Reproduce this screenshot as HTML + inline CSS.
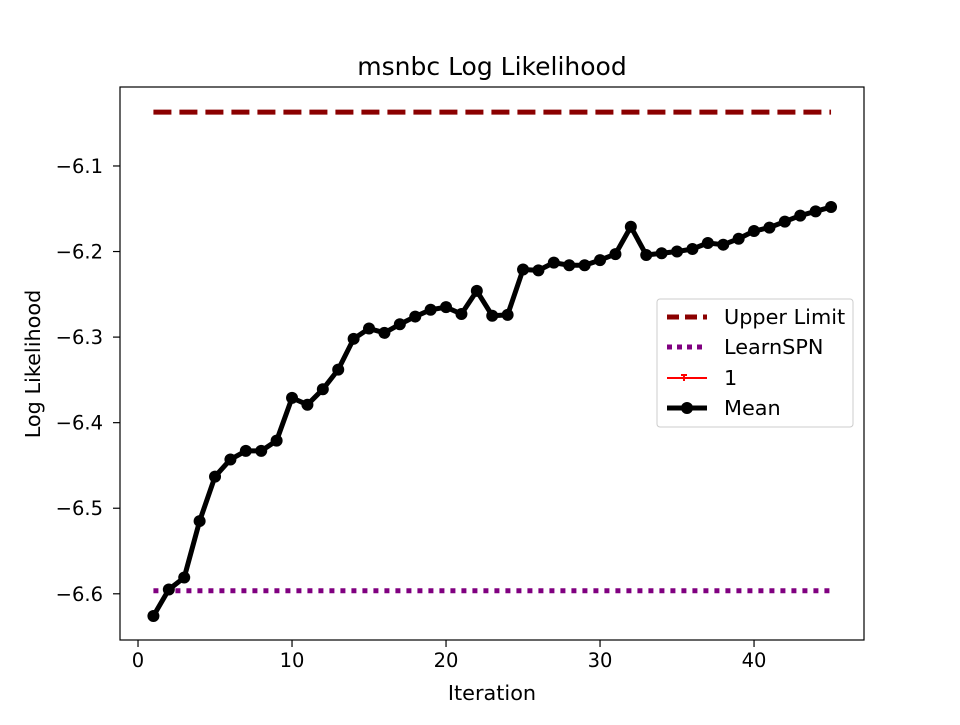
<!DOCTYPE html>
<html><head><meta charset="utf-8"><style>
body{margin:0;background:#fff;}
svg text{font-family:"DejaVu Sans","Liberation Sans",sans-serif;}
</style></head><body>
<svg id="chart" width="960" height="720" xmlns="http://www.w3.org/2000/svg">
<rect width="960" height="720" fill="#fff"/>
<text x="492" y="75" font-size="25" text-anchor="middle">msnbc Log Likelihood</text>
<g id="plot"></g>
<rect x="120" y="87" width="744" height="553" fill="none" stroke="#000" stroke-width="1.2"/>
<text x="492" y="700" font-size="20.8" text-anchor="middle">Iteration</text>
<text x="0" y="0" font-size="20.8" text-anchor="middle" transform="translate(40,364) rotate(-90)">Log Likelihood</text>
<g>
<rect x="657" y="299" width="196" height="128" fill="#fff" stroke="#ccc" rx="3"/>
<line x1="667" y1="317" x2="707" y2="317" stroke="#8b0000" stroke-width="5" stroke-dasharray="12,6"/>
<text x="724" y="324" font-size="20.8">Upper Limit</text>
<line x1="667" y1="347" x2="707" y2="347" stroke="#800080" stroke-width="5" stroke-dasharray="5,5"/>
<text x="724" y="354" font-size="20.8">LearnSPN</text>
<line x1="667" y1="378" x2="707" y2="378" stroke="red" stroke-width="2"/>
<path d="M681,375 L687,375 M684,375 L684,381" stroke="red" stroke-width="2"/>
<text x="724" y="385" font-size="20.8">1</text>
<line x1="667" y1="408" x2="707" y2="408" stroke="#000" stroke-width="5"/>
<circle cx="687" cy="408" r="6" fill="#000"/>
<text x="724" y="415" font-size="20.8">Mean</text>
</g>
</svg>
<script>
const upperLimit = -6.037;
const learnSPN = -6.5965;
const iterations = [1,2,3,4,5,6,7,8,9,10,11,12,13,14,15,16,17,18,19,20,21,22,23,24,25,26,27,28,29,30,31,32,33,34,35,36,37,38,39,40,41,42,43,44,45];
const meanValues = [-6.626,-6.595,-6.581,-6.515,-6.463,-6.443,-6.433,-6.433,-6.421,-6.371,-6.379,-6.361,-6.338,-6.302,-6.290,-6.295,-6.285,-6.276,-6.268,-6.265,-6.273,-6.246,-6.275,-6.274,-6.221,-6.222,-6.213,-6.216,-6.216,-6.210,-6.203,-6.171,-6.204,-6.202,-6.200,-6.197,-6.190,-6.192,-6.185,-6.176,-6.172,-6.165,-6.158,-6.153,-6.148];
const series1Values = meanValues.slice();
const xTicks = [0,10,20,30,40];
const yTicks = [-6.6,-6.5,-6.4,-6.3,-6.2,-6.1];

const NS = "http://www.w3.org/2000/svg";
const xMin = -1.17, xMax = 47.14, yMin = -6.654, yMax = -6.0077;
const L = 120, R = 864, T = 87, B = 640;
function sx(v){ return L + (v - xMin) / (xMax - xMin) * (R - L); }
function sy(v){ return B - (v - yMin) / (yMax - yMin) * (B - T); }
const g = document.getElementById('plot');
function mk(tag, attrs){ const e = document.createElementNS(NS, tag); for (const k in attrs) e.setAttribute(k, attrs[k]); g.appendChild(e); return e; }

xTicks.forEach(t => {
  const x = sx(t);
  const tk = mk('line', {x1:x, y1:B, x2:x, y2:B+7, stroke:'#000', 'stroke-width':1.2});
  
  
  const lb = mk('text', {x:x, y:B+27, 'font-size':19.5, 'text-anchor':'middle'});
  lb.textContent = String(t);
  
  
});
yTicks.forEach(t => {
  const y = sy(t);
  const tk = mk('line', {x1:L-7, y1:y, x2:L, y2:y, stroke:'#000', 'stroke-width':1.2});
  
  
  const lb = mk('text', {x:L-17, y:y+7, 'font-size':19.5, 'text-anchor':'end'});
  lb.textContent = '\u2212' + Math.abs(t).toFixed(1);
  
  
});

const x0 = sx(iterations[0]), x1 = sx(iterations[iterations.length-1]);
const ul = mk('line', {x1:x0, y1:sy(upperLimit), x2:x1, y2:sy(upperLimit), stroke:'#8b0000', 'stroke-width':5, 'stroke-dasharray':'18,8'});


const ls = mk('line', {x1:x0, y1:sy(learnSPN), x2:x1, y2:sy(learnSPN), stroke:'#800080', 'stroke-width':5, 'stroke-dasharray':'5,6'});



const p1 = mk('polyline', {points: iterations.map((v,i)=>sx(v)+','+sy(series1Values[i])).join(' '), fill:'none', stroke:'red', 'stroke-width':2});



const pm = mk('polyline', {points: iterations.map((v,i)=>sx(v)+','+sy(meanValues[i])).join(' '), fill:'none', stroke:'#000', 'stroke-width':5, 'stroke-linejoin':'round'});


iterations.forEach((v,i) => {
  const c = mk('circle', {cx:sx(v), cy:sy(meanValues[i]), r:6, fill:'#000'});
  
  
});
</script>
</body></html>
